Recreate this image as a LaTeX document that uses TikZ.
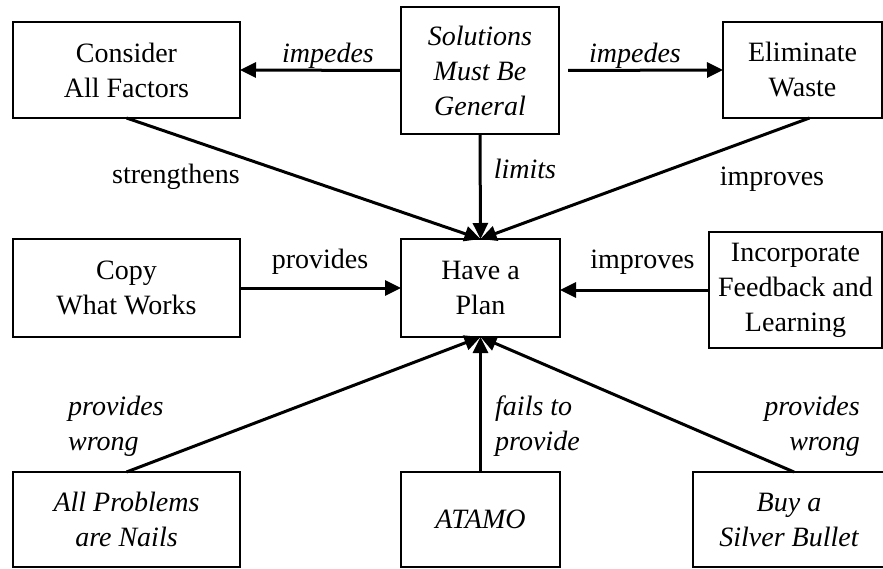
\documentclass[tikz,border=0pt]{standalone}
\usepackage{fontspec}
\setmainfont{Liberation Serif}
\usetikzlibrary{arrows.meta}
\begin{document}
\begin{tikzpicture}[x=1pt,y=-1pt,
  box/.style={draw,line width=2pt,inner sep=0pt,outer sep=0pt,align=center,
    font=\fontsize{28}{35}\selectfont},
  lbl/.style={inner sep=0pt,font=\fontsize{28}{35}\selectfont},
  ilbl/.style={inner sep=0pt,font=\fontsize{28}{35}\selectfont\itshape},
  conn/.style={line width=3pt,-{Triangle[length=16pt,width=15pt]}},
  line/.style={line width=3pt}]
\useasboundingbox (0,0) rectangle (883,569);
% boxes
\node[box,minimum width=227pt,minimum height=96pt] (cons) at (126.5,70) {Consider\\All Factors};
\node[box,minimum width=158pt,minimum height=127pt,font=\fontsize{28}{35}\selectfont\itshape] (sol) at (480,70.5) {Solutions\\Must Be\\General};
\node[box,minimum width=159pt,minimum height=96pt] (elim) at (802.5,70) {Eliminate\\Waste};
\node[box,minimum width=227pt,minimum height=98pt] (copy) at (126.5,288) {Copy\\What Works};
\node[box,minimum width=159pt,minimum height=98pt] (plan) at (480.5,288) {Have a\\Plan};
\node[box,minimum width=173pt,minimum height=116pt] (inc) at (795.5,290) {Incorporate\\Feedback and\\Learning};
\node[box,minimum width=227pt,minimum height=95pt,font=\fontsize{28}{35}\selectfont\itshape] (nails) at (126.5,519.5) {All Problems\\are Nails};
\node[box,minimum width=159pt,minimum height=95pt,font=\fontsize{28}{35}\selectfont\itshape] (atamo) at (480.5,519.5) {ATAMO};
\node[box,minimum width=192pt,minimum height=95pt,font=\fontsize{28}{35}\selectfont\itshape] (bullet) at (789,519.5) {Buy a\\Silver Bullet};
% connectors
\draw[conn] (sol.west) -- (cons.east);
\draw[conn,shorten <=9pt] (sol.east) -- (elim.west);
\draw[conn] (cons.south) -- (plan.north);
\draw[conn] (sol.south) -- (plan.north);
\draw[conn] ([xshift=7pt]elim.south) -- (plan.north);
\draw[conn] (copy.east) -- (plan.west);
\draw[conn] (inc.west) -- (inc.west -| plan.east);
\draw[conn] (nails.north) -- (plan.south);
\draw[conn] (atamo.north) -- (plan.south);
\draw[conn] ([xshift=5pt]bullet.north) -- (plan.south);
% labels
\node[ilbl] (l1) at (328,56) {impedes};
\node[ilbl] (l2) at (635,56) {impedes};
\node[lbl] (l3) at (176,177) {strengthens};
\node[ilbl] (l4) at (525,169) {limits};
\node[lbl] (l5) at (772,179) {improves};
\node[lbl] (l6) at (320,262) {provides};
\node[lbl] (l7) at (642.5,262) {improves};
\node[ilbl,align=left,anchor=west] (l8) at (68,426) {provides\\wrong};
\node[ilbl,align=left,anchor=west] (l9) at (495,426) {fails to\\provide};
\node[ilbl,align=right,anchor=east] (l10) at (860,426) {provides\\wrong};
\end{tikzpicture}
\end{document}
